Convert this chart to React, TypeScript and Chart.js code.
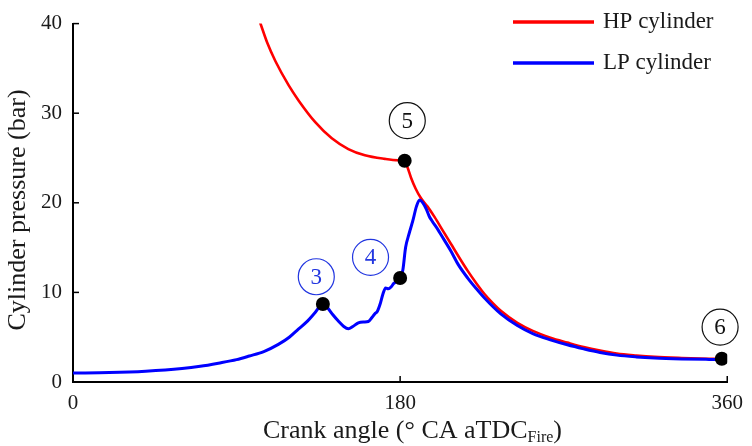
import React, { useEffect, useRef } from "react";
import { Chart, registerables } from "chart.js";

Chart.register(...registerables);

// High-pressure cylinder trace (crank angle in degrees, pressure in bar)
const hpAngle = [
  103, 107, 111.4, 118.7, 124.2, 133.3, 142.4, 151.5, 160.6, 171.6, 178.9,
  182.5, 184, 186, 188.5, 191.5, 195, 199, 203.5, 208, 212.5, 217.2, 222,
  226.3, 231, 235.4, 244.5, 253, 262.7, 272, 281, 290, 299.2, 310, 320, 335,
  350, 357,
];
const hpPressure = [
  40.1, 37.8, 35.8, 33.1, 31.4, 29.0, 27.2, 26.0, 25.3, 24.9, 24.75, 24.7,
  24.0, 22.8, 21.6, 20.5, 19.6, 18.4, 16.9, 15.4, 13.9, 12.4, 11.0, 9.85, 8.8,
  7.95, 6.6, 5.7, 4.95, 4.4, 3.9, 3.5, 3.17, 2.95, 2.8, 2.68, 2.6, 2.58,
];

// Low-pressure cylinder trace
const lpAngle = [
  0, 20, 40, 60, 70, 80, 90, 97, 105, 113, 119, 124, 129, 133, 137.5, 140,
  143, 146, 149, 151.5, 154, 157, 160, 162.5, 164.5, 166, 167.5, 169, 170.5,
  172, 173.5, 175, 176.5, 178, 180, 181.5, 183, 185, 187, 189, 190.7, 192.5,
  194.4, 196, 197.5, 200.8, 202.6, 208, 212, 217.2, 222, 226.3, 235.4, 244.5,
  253, 262.7, 272, 281, 290, 299.2, 310, 320, 335, 350, 357,
];
const lpPressure = [
  1.0, 1.05, 1.2, 1.5, 1.75, 2.1, 2.5, 2.9, 3.4, 4.2, 5.0, 5.9, 6.8, 7.7, 8.7,
  8.3, 7.5, 6.8, 6.2, 5.95, 6.2, 6.6, 6.7, 6.75, 7.2, 7.6, 7.9, 8.7, 9.8, 10.5,
  10.4, 10.6, 11.0, 11.2, 11.6, 12.5, 15.0, 16.6, 18.0, 19.6, 20.3, 20.0, 19.3,
  18.5, 18.0, 17.0, 16.4, 14.6, 13.1, 11.6, 10.4, 9.4, 7.6, 6.3, 5.4, 4.7,
  4.15, 3.7, 3.3, 3.0, 2.8, 2.68, 2.58, 2.52, 2.5,
];

// Numbered process states marked on the traces
const stateAngle = [137.5, 180, 182.5, 357];
const statePressure = [8.7, 11.6, 24.7, 2.6];
const stateNames = ["3", "4", "5", "6"];

// Axis tick values
const angleTicks = [0, 180, 360];
const pressureTicks = [0, 10, 20, 30, 40];

const FONT = '"Liberation Serif", "Times New Roman", serif';
const INK = "#1a1a1a";
const BLUE = "#0000ff";
const RED = "#ff0000";

// badge look and placement (pixel offsets from each marker)
const badgeStyle = [
  { color: "#2236e0", dx: -6.6, dy: -27.3 },
  { color: "#2236e0", dx: -29.6, dy: -20.7 },
  { color: "#111111", dx: 2.6, dy: -40 },
  { color: "#111111", dx: -1.7, dy: -31.6 },
];

const toXY = (xs: number[], ys: number[]) => xs.map((x, i) => ({ x, y: ys[i] }));

const decorations = {
  id: "decorations",
  afterDraw(chart: any) {
    const { ctx, chartArea, scales } = chart;
    const xs = scales.x;
    const ys = scales.y;
    ctx.save();

    // inward tick marks
    ctx.strokeStyle = "#000";
    ctx.lineWidth = 1.5;
    pressureTicks.forEach((v) => {
      if (v === 0) return;
      const py = ys.getPixelForValue(v);
      ctx.beginPath();
      ctx.moveTo(chartArea.left, py);
      ctx.lineTo(chartArea.left + 6, py);
      ctx.stroke();
    });
    angleTicks.forEach((v) => {
      if (v === 0) return;
      const px = xs.getPixelForValue(v);
      ctx.beginPath();
      ctx.moveTo(px, chartArea.bottom);
      ctx.lineTo(px, chartArea.bottom - 6);
      ctx.stroke();
    });

    // circled state numbers
    stateNames.forEach((name, i) => {
      const st = badgeStyle[i];
      const cx = xs.getPixelForValue(stateAngle[i]) + st.dx;
      const cy = ys.getPixelForValue(statePressure[i]) + st.dy;
      ctx.beginPath();
      ctx.arc(cx, cy, 18, 0, Math.PI * 2);
      ctx.lineWidth = 1.2;
      ctx.strokeStyle = st.color;
      ctx.stroke();
      ctx.fillStyle = st.color;
      ctx.font = `23px ${FONT}`;
      ctx.textAlign = "center";
      ctx.textBaseline = "middle";
      ctx.fillText(name, cx, cy + 1);
    });

    // legend
    const legend = [
      { label: "HP cylinder", color: RED, y: 22 },
      { label: "LP cylinder", color: BLUE, y: 63 },
    ];
    legend.forEach((item) => {
      ctx.beginPath();
      ctx.moveTo(513, item.y);
      ctx.lineTo(594, item.y);
      ctx.lineWidth = 3.3;
      ctx.strokeStyle = item.color;
      ctx.stroke();
      ctx.fillStyle = INK;
      ctx.font = `23px ${FONT}`;
      ctx.textAlign = "left";
      ctx.textBaseline = "middle";
      ctx.fillText(item.label, 603, item.y);
    });

    // y axis title
    ctx.save();
    ctx.translate(18, 210);
    ctx.rotate(-Math.PI / 2);
    ctx.font = `26px ${FONT}`;
    ctx.fillStyle = INK;
    ctx.textAlign = "center";
    ctx.textBaseline = "middle";
    ctx.fillText("Cylinder pressure (bar)", 0, 0);
    ctx.restore();

    // x axis title with subscript
    const main = "Crank angle (° CA aTDC";
    const sub = "Fire";
    const tail = ")";
    const bigFont = `26px ${FONT}`;
    const smallFont = `16px ${FONT}`;
    ctx.font = bigFont;
    const wMain = ctx.measureText(main).width;
    const wTail = ctx.measureText(tail).width;
    ctx.font = smallFont;
    const wSub = ctx.measureText(sub).width;
    const total = wMain + wSub + wTail;
    let tx = 412.5 - total / 2;
    const base = 437.5;
    ctx.textAlign = "left";
    ctx.textBaseline = "alphabetic";
    ctx.fillStyle = INK;
    ctx.font = bigFont;
    ctx.fillText(main, tx, base);
    tx += wMain;
    ctx.font = smallFont;
    ctx.fillText(sub, tx, base + 4);
    tx += wSub;
    ctx.font = bigFont;
    ctx.fillText(tail, tx, base);

    ctx.restore();
  },
};

export default function App() {
  const canvasRef = useRef<HTMLCanvasElement | null>(null);

  useEffect(() => {
    if (!canvasRef.current) return;
    const chart = new Chart(canvasRef.current, {
      type: "line",
      data: {
        datasets: [
          {
            label: "states",
            data: toXY(stateAngle, statePressure),
            showLine: false,
            pointRadius: 7,
            pointBackgroundColor: "#000",
            pointBorderColor: "#000",
            pointBorderWidth: 0,
            order: 0,
          },
          {
            label: "LP cylinder",
            data: toXY(lpAngle, lpPressure),
            borderColor: BLUE,
            borderWidth: 3,
            pointRadius: 0,
            cubicInterpolationMode: "monotone",
            fill: false,
            order: 1,
          },
          {
            label: "HP cylinder",
            data: toXY(hpAngle, hpPressure),
            borderColor: RED,
            borderWidth: 2.6,
            pointRadius: 0,
            cubicInterpolationMode: "monotone",
            fill: false,
            order: 2,
          },
        ],
      },
      options: {
        animation: false,
        responsive: true,
        maintainAspectRatio: false,
        layout: { padding: { top: 19.5, right: 21, left: 0, bottom: 0 } },
        plugins: {
          legend: { display: false },
          tooltip: { enabled: false },
          title: { display: false },
        },
        scales: {
          x: {
            type: "linear",
            min: 0,
            max: 360,
            afterBuildTicks: (s: any) => {
              s.ticks = angleTicks.map((v) => ({ value: v }));
            },
            afterFit: (s: any) => {
              s.height = 64;
            },
            ticks: {
              color: INK,
              font: { family: FONT, size: 21 },
              padding: 9,
              maxRotation: 0,
            },
            grid: { display: true, drawOnChartArea: false, drawTicks: false },
            border: { display: true, color: "#000", width: 2 },
          },
          y: {
            type: "linear",
            min: 0,
            max: 40,
            afterBuildTicks: (s: any) => {
              s.ticks = pressureTicks.map((v) => ({ value: v }));
            },
            afterFit: (s: any) => {
              s.width = 73;
            },
            ticks: {
              color: INK,
              font: { family: FONT, size: 21 },
              padding: 11,
            },
            grid: { display: true, drawOnChartArea: false, drawTicks: false },
            border: { display: true, color: "#000", width: 2 },
          },
        },
      },
      plugins: [decorations],
    });
    return () => chart.destroy();
  }, []);

  return (
    <div style={{ position: "fixed", left: 0, top: 0, width: 752, height: 446, background: "#fff" }}>
      <canvas ref={canvasRef} />
    </div>
  );
}
